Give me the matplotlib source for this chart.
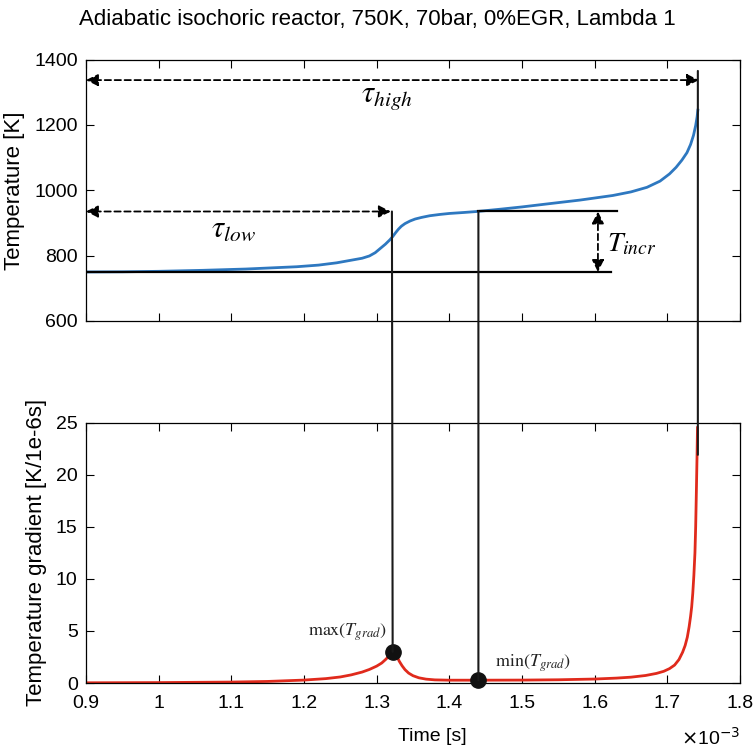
import matplotlib.pyplot as plt
from matplotlib.patches import ConnectionPatch

plt.rcParams['font.family'] = ['Liberation Sans', 'DejaVu Sans']
plt.rcParams['mathtext.fontset'] = 'stix'

# time in ms (axis shows x10^-3 s)
t_temp = [0.90, 0.95, 1.00, 1.06, 1.12, 1.19, 1.22, 1.245, 1.265, 1.28, 1.29,
          1.298, 1.305, 1.312, 1.318, 1.322, 1.326, 1.330, 1.334, 1.339, 1.346,
          1.353, 1.362, 1.373, 1.387, 1.40, 1.42, 1.438, 1.47, 1.50, 1.534,
          1.58, 1.625, 1.65, 1.672, 1.69, 1.703, 1.712, 1.72, 1.727, 1.732,
          1.736, 1.739, 1.741, 1.742]
temp = [750, 750.5, 752, 755, 759, 766, 771, 778, 786, 792, 799,
        809, 822, 835, 848, 858, 870, 881, 890, 898, 906,
        912, 917, 922, 926, 929, 932, 935, 942, 949, 958,
        970, 984, 995, 1009, 1028, 1050, 1070, 1092, 1115, 1140,
        1168, 1198, 1225, 1245]

t_grad = [0.90, 1.00, 1.10, 1.15, 1.20, 1.23, 1.25, 1.265, 1.28, 1.29, 1.30,
          1.307, 1.313, 1.318, 1.322, 1.325, 1.328, 1.331, 1.335, 1.339, 1.344,
          1.350, 1.358, 1.368, 1.38, 1.40, 1.44, 1.50, 1.55, 1.60, 1.63,
          1.65, 1.67, 1.685, 1.695, 1.703, 1.71, 1.716, 1.721, 1.7245, 1.7275,
          1.730, 1.732, 1.7335, 1.735, 1.7365, 1.738, 1.739, 1.740, 1.7408, 1.7415]
grad = [0.02, 0.04, 0.09, 0.15, 0.28, 0.42, 0.58, 0.78, 1.05, 1.30, 1.62,
        1.92, 2.30, 2.70, 3.00, 2.90, 2.55, 2.10, 1.65, 1.28, 0.95,
        0.70, 0.50, 0.37, 0.30, 0.27, 0.27, 0.28, 0.31, 0.38, 0.47,
        0.56, 0.72, 0.92, 1.12, 1.38, 1.72, 2.25, 2.95, 3.6, 4.4,
        5.4, 6.4, 7.3, 8.6, 10.3, 12.5, 15.0, 18.5, 21.5, 24.5]

# characteristic points
t_low, T_low_mark = 1.321, 935
t_min, g_min = 1.44, 0.27
t_max, g_max = 1.322, 3.0
t_high, T_high_top, g_high_bot = 1.742, 1365, 21.9
T0, T_incr_top = 750, 935

blue = '#2E78C0'
red = '#E02A1C'

fig = plt.figure(figsize=(7.55, 7.52), dpi=100)
ax1 = fig.add_axes([86 / 755, 1 - 321 / 752, 654 / 755, 261.5 / 752])
ax2 = fig.add_axes([86 / 755, 1 - 683 / 752, 654 / 755, 260.5 / 752])

for ax in (ax1, ax2):
    ax.set_xlim(0.9, 1.8)
    ax.set_xticks([0.9, 1.0, 1.1, 1.2, 1.3, 1.4, 1.5, 1.6, 1.7, 1.8])
    ax.tick_params(direction='in', top=True, right=True, length=6,
                   labelsize=14, width=0.8)
    ax.tick_params(axis='x', pad=9)
    ax.tick_params(axis='y', pad=6)
    for s in ax.spines.values():
        s.set_linewidth(0.9)

ax1.plot(t_temp, temp, color=blue, lw=2)
ax1.set_ylim(600, 1400)
ax1.set_yticks([600, 800, 1000, 1200, 1400])
ax1.set_xticklabels([])
ax1.set_ylabel('Temperature [K]', fontsize=16)
ax1.yaxis.set_label_coords(-0.093, 0.5)

# reference lines in temperature panel
ax1.plot([0.9, 1.6225], [T0, T0], color='k', lw=1.6)
ax1.plot([t_min, 1.6307], [T_incr_top, T_incr_top], color='k', lw=1.6)

arrow = dict(arrowstyle='<|-|>', linestyle=(0, (3.5, 2)), color='k', lw=1.3,
             mutation_scale=18, shrinkA=0, shrinkB=0)
ax1.annotate('', xy=(0.9, 1337), xytext=(1.7435, 1337), arrowprops=arrow)
ax1.annotate('', xy=(0.9, 935), xytext=(1.3195, 935), arrowprops=arrow)
ax1.annotate('', xy=(1.6045, T_incr_top), xytext=(1.6045, T0), arrowprops=arrow)

ax1.text(1.3142, 1285, r'$\tau_{high}$', fontsize=22, ha='center', va='center')
ax1.text(1.1023, 883, r'$\tau_{low}$', fontsize=22, ha='center', va='center')
ax1.text(1.617, 835, r'$T_{incr}$', fontsize=20, ha='left', va='center')

fig.text(0.5, 1 - 20 / 752, 'Adiabatic isochoric reactor, 750K, 70bar, 0%EGR, Lambda 1',
         fontsize=16, ha='center', va='center')

ax2.plot(t_grad, grad, color=red, lw=2)
ax2.set_ylim(0, 25)
ax2.set_yticks([0, 5, 10, 15, 20, 25])
ax2.set_xticklabels(['0.9', '1', '1.1', '1.2', '1.3', '1.4', '1.5', '1.6', '1.7', '1.8'])
ax2.set_xlabel('Time [s]', fontsize=14)
ax2.xaxis.set_label_coords(0.53, -0.172)
ax2.set_ylabel('Temperature gradient [K/1e-6s]', fontsize=16)
ax2.yaxis.set_label_coords(-0.06, 0.5)
ax2.text(1.0, -0.21, r'$\times$10$^{-3}$', transform=ax2.transAxes,
         fontsize=14, ha='right', va='center', family='Liberation Sans',
         math_fontfamily='dejavusans')

# connector lines between the two panels
for ta, ya, tb, yb in [(t_low, T_low_mark, t_max, g_max),
                       (t_min, T_incr_top, t_min, g_min),
                       (t_high, T_high_top, t_high, g_high_bot)]:
    con = ConnectionPatch(xyA=(ta, ya), coordsA=ax1.transData,
                          xyB=(tb, yb), coordsB=ax2.transData,
                          color='#1a1a1a', lw=1.5)
    fig.add_artist(con)

ax2.plot([t_max, t_min], [g_max, g_min], 'o', color='#111111', ms=11,
         clip_on=False, zorder=5)
ax2.text(1.2592, 4.9, r'$\mathrm{max}(T_{grad})$', fontsize=13,
         ha='center', va='center', color='#222222')
ax2.text(1.5151, 1.92, r'$\mathrm{min}(T_{grad})$', fontsize=13,
         ha='center', va='center', color='#222222')

fig.savefig('out.png', dpi=100)
